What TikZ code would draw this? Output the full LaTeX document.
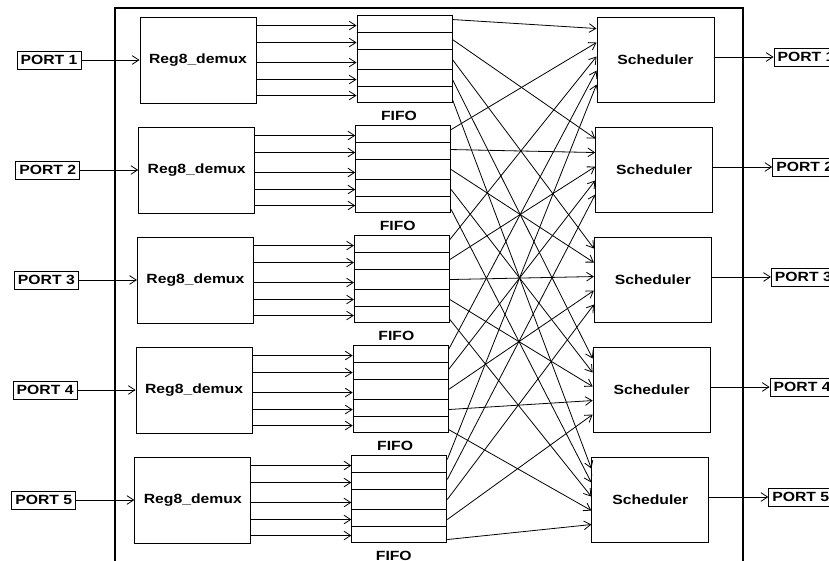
\documentclass[tikz,border=0pt]{standalone}
\usepackage{fontspec}
\newfontfamily\labfont[FakeStretch=1.18]{Liberation Sans}
\usetikzlibrary{arrows.meta,calc}
\begin{document}
\begin{tikzpicture}[x=0.75pt,y=-0.75pt,
  box/.style={draw, line width=0.7pt, inner sep=0pt, font=\labfont\bfseries\fontsize{10}{12}\selectfont},
  demux/.style={box, minimum width=87pt, minimum height=64.5pt},
  fifo/.style={box, minimum width=71.25pt, minimum height=65.25pt},
  sched/.style={box, minimum width=87.75pt, minimum height=63.75pt},
  port/.style={box, minimum width=48pt, minimum height=13.5pt},
  lbl/.style={font=\labfont\bfseries\fontsize{10}{12}\selectfont, inner sep=0pt},
  arr/.style={-{Straight Barb[length=5pt,width=6.5pt]}, line width=0.6pt},
  ln/.style={line width=0.6pt},
  frame/.style={line width=0.9pt}]
\useasboundingbox (0,0) rectangle (829,561);
\draw[frame] (115,580) -- (115,8) -- (743,8) -- (743,580);
\foreach \i in {1,...,5} {
  \pgfmathsetmacro\s{-1.3*(\i-1)}
  \pgfmathsetmacro\dy{110*(\i-1)}
  \node[port] (P\i) at ({49+\s},{60+\dy}) {PORT \i};
  \node[demux] (D\i) at ({198+\s},{60+\dy}) {Reg8\_demux};
  \node[fifo] (F\i) at ({404.5+\s},{58.5+\dy}) {};
  \node[lbl] (L\i) at ({399+\s},{116+\dy}) {FIFO};
  \node[sched] (S\i) at ({655.5+\s},{59.5+\dy}) {Scheduler};
  \node[port] (Q\i) at ({806+\s},{57+\dy}) {PORT \i};
}
\foreach \i in {1,...,5} {
  \draw[arr] (P\i) -- (D\i);
  \draw[arr] (S\i.east |- Q\i.west) -- (Q\i.west);
  \foreach \o in {17.5,35,55,72}
    \draw[ln] ($(F\i.north west)+(0,\o)$) -- ($(F\i.north east)+(0,\o)$);
  \foreach \o in {9,26,46,63,79}
    \draw[arr] ($(D\i.north east)+(0,\o)$) coordinate (a) -- (a -| F\i.west);
}
\foreach \i in {1,...,5}
  \foreach \j in {1,...,5}
    \draw[arr] ($(F\i.north east)+(0,{5+20*(\j-1)})$) -- ($(S\j.north west)+(0,{12+14*(\i-1)})$);
\end{tikzpicture}
\end{document}
